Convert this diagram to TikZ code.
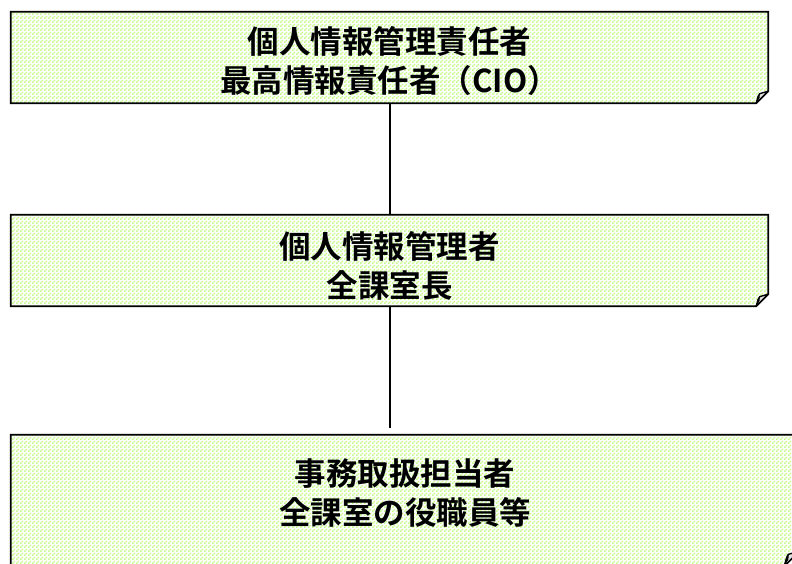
\documentclass[tikz,border=0pt]{standalone}
\usepackage{fontspec}
\newfontfamily\jp{Noto Sans CJK JP}[BoldFont={* Bold}]
\usetikzlibrary{patterns,calc}
\pgfdeclarepatternformonly{greendots}{\pgfpointorigin}{\pgfpoint{4pt}{4pt}}{\pgfpoint{4pt}{4pt}}{%
  \pgfpathrectangle{\pgfpoint{0pt}{0pt}}{\pgfpoint{2pt}{2pt}}%
  \pgfpathrectangle{\pgfpoint{2pt}{2pt}}{\pgfpoint{2pt}{2pt}}%
  \pgfusepath{fill}}
\definecolor{dotgreen}{RGB}{196,252,140}
\tikzset{
  boxarea/.style={draw=none, inner sep=0pt},
  boxtext/.style={font=\jp\bfseries\fontsize{31.5}{39}\selectfont, align=center, inner sep=0pt},
  boxline/.style={draw=black, line width=1.8pt, line join=miter},
  conn/.style={draw=black, line width=2pt},
}
\newcommand\foldbox[2]{%
  \fill[pattern=greendots, pattern color=dotgreen]
    (#1.north west) -- (#1.north east) -- ([yshift=#2]#1.south east)
    -- ([xshift=-#2]#1.south east) -- (#1.south west) -- cycle;
  \draw[boxline]
    (#1.north west) -- (#1.north east) -- ([yshift=#2]#1.south east)
    -- ([xshift=-#2]#1.south east) -- (#1.south west) -- cycle;
  \filldraw[line width=1.4pt, fill=gray!25, line join=round]
    ([xshift=-#2]#1.south east)
    .. controls ([xshift=-0.85*#2, yshift=0.55*#2]#1.south east) and ([xshift=-0.8*#2, yshift=0.75*#2]#1.south east)
    .. ([xshift=-0.7*#2, yshift=0.8*#2]#1.south east)
    -- ([yshift=#2]#1.south east) -- cycle;
  \fill[black] ([xshift=-#2]#1.south east)
    .. controls ([xshift=-0.85*#2, yshift=0.55*#2]#1.south east) and ([xshift=-0.8*#2, yshift=0.75*#2]#1.south east)
    .. ([xshift=-0.7*#2, yshift=0.8*#2]#1.south east)
    -- ([xshift=-0.72*#2, yshift=0.45*#2]#1.south east) -- cycle;
}
\begin{document}
\begin{tikzpicture}[x=1pt,y=-1pt]
\useasboundingbox (0,0) rectangle (792,563);
\clip (0,0) rectangle (792,563);
\node[boxarea, minimum width=757pt, minimum height=91pt] (b1) at (389.5,57.5) {};
\node[boxarea, minimum width=757pt, minimum height=91pt] (b2) at (389.5,260.5) {};
\node[boxarea, minimum width=788pt, minimum height=131pt] (b3) at (405,500.5) {};
\foldbox{b1}{12pt}
\foldbox{b2}{12pt}
\foldbox{b3}{15pt}
\node[boxtext] (t1) at (389.5,61) {個人情報管理責任者\\最高情報責任者（CIO）};
\node[boxtext] (t2) at (389.5,266) {個人情報管理者\\全課室長};
\node[boxtext] (t3) at (405,493) {事務取扱担当者\\全課室の役職員等};
\coordinate (e2) at (389.5,428);
\draw[conn] (b1.south) -- (b2.north);
\draw[conn] (b2.south) -- (e2);
\end{tikzpicture}
\end{document}
